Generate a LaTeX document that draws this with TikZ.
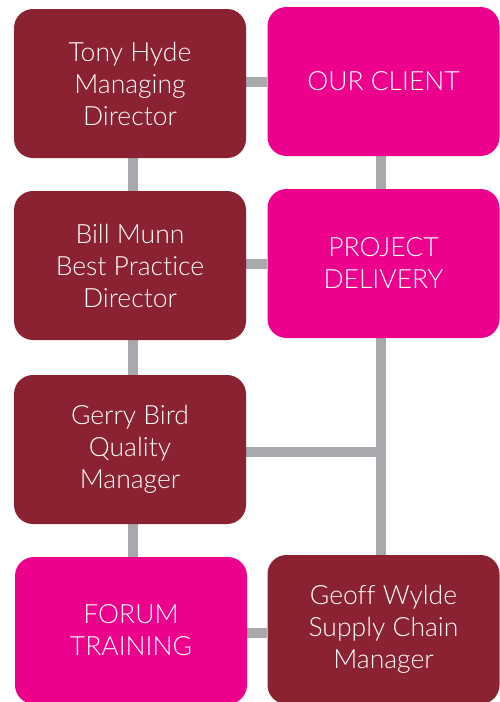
\documentclass[tikz,border=0pt]{standalone}
\usepackage{fontspec}
\setmainfont{Lato}[UprightFont={* Light},Ligatures={NoCommon}]
\usetikzlibrary{backgrounds}
\definecolor{wine}{HTML}{8A2232}
\definecolor{mag}{HTML}{EC008C}
\definecolor{conn}{HTML}{A7A9AC}
\tikzset{
  box/.style={rounded corners=19pt, inner sep=0pt, align=center, text=white,
    font=\fontsize{26.5}{32}\selectfont},
  dark/.style={box, fill=wine},
  pink/.style={box, fill=mag},
  link/.style={draw=conn, line width=10pt},
}
\begin{document}
\begin{tikzpicture}[x=1pt,y=-1pt]
\useasboundingbox (0,0) rectangle (499,702);
\node[dark, minimum width=232pt, minimum height=149pt] (tony) at (130,83.5) {Tony Hyde\\Managing\\Director};
\node[pink, minimum width=232pt, minimum height=149pt] (client) at (383.5,81.5) {OUR CLIENT};
\node[dark, minimum width=232pt, minimum height=149pt] (bill) at (130,265.5) {Bill Munn\\Best Practice\\Director};
\node[pink, minimum width=232pt, minimum height=149pt] (pd) at (383.5,263.5) {PROJECT\\DELIVERY};
\node[dark, minimum width=232pt, minimum height=149pt] (gerry) at (130,449.5) {Gerry Bird\\Quality\\Manager};
\node[pink, minimum width=232pt, minimum height=147pt] (forum) at (131,630.5) {FORUM\\TRAINING};
\node[dark, minimum width=232pt, minimum height=149pt] (geoff) at (383.5,629.5) {Geoff Wylde\\Supply Chain\\Manager};
\coordinate (jn) at ([xshift=-3pt]pd.south);
\begin{pgfonlayer}{background}
\draw[link] (tony.east |- client.west) -- (client.west);
\draw[link] ([xshift=3pt]tony.south) -- ([xshift=3pt]bill.north);
\draw[link] ([xshift=3pt]bill.south) -- ([xshift=3pt]gerry.north);
\draw[link] ([xshift=3pt]gerry.south) -- ([xshift=2pt]forum.north);
\draw[link] ([xshift=-3pt]client.south) -- ([xshift=-3pt]pd.north);
\draw[link] (bill.east |- pd.west) -- (pd.west);
\draw[link] (jn) -- ([xshift=-3pt]geoff.north);
\draw[link] ([yshift=-2pt]gerry.east) -- ([yshift=-2pt]gerry.east -| jn);
\draw[link] ([yshift=-2pt]forum.east) -- ([yshift=-2pt]forum.east -| geoff.west);
\end{pgfonlayer}
\end{tikzpicture}
\end{document}
